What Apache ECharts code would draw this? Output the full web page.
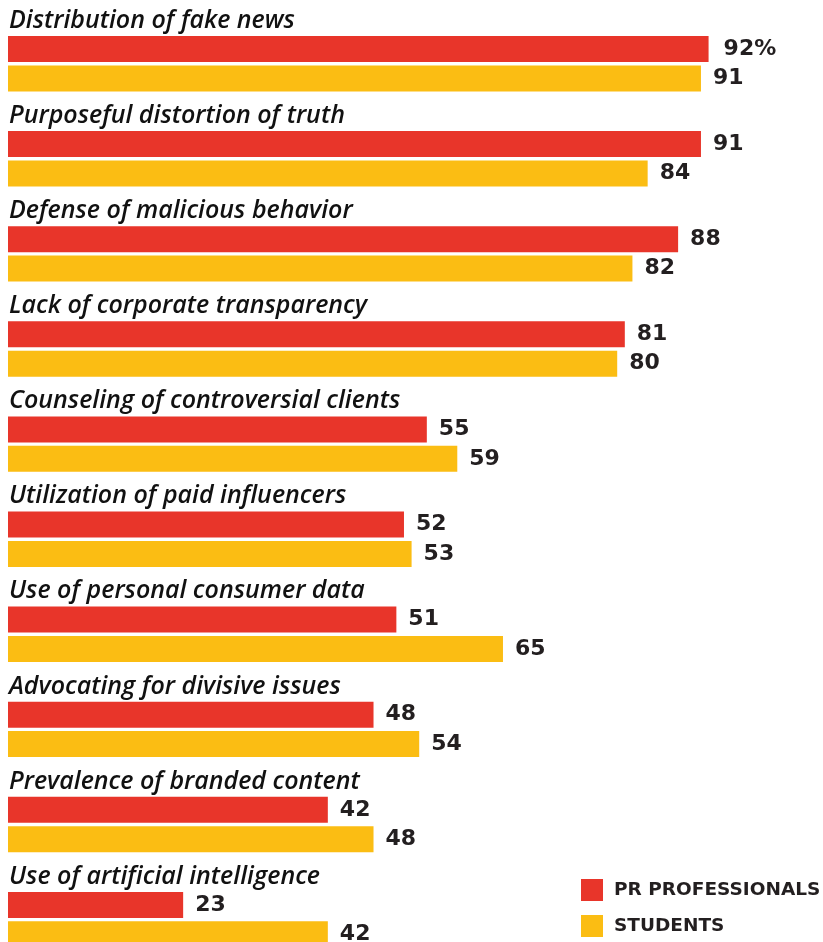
<!DOCTYPE html>
<html>
<head>
<meta charset="utf-8">
<script src="https://cdn.jsdelivr.net/npm/echarts@6/dist/echarts.min.js"></script>
<style>
html,body{margin:0;padding:0;background:#fff;overflow:hidden;}
#chart{width:823px;height:980px;}
</style>
</head>
<body>
<div id="chart"></div>
<script>
const categories = [
  "Distribution of fake news",
  "Purposeful distortion of truth",
  "Defense of malicious behavior",
  "Lack of corporate transparency",
  "Counseling of controversial clients",
  "Utilization of paid influencers",
  "Use of personal consumer data",
  "Advocating for divisive issues",
  "Prevalence of branded content",
  "Use of artificial intelligence"
];
const prProfessionals = [92, 91, 88, 81, 55, 52, 51, 48, 42, 23];
const students = [91, 84, 82, 80, 59, 53, 65, 54, 48, 42];
const seriesNames = ["PR PROFESSIONALS", "STUDENTS"];

const RED = "#E8352A";
const YELLOW = "#FBBD13";
const INK = "#231F20";

const chart = echarts.init(document.getElementById('chart'), null, {renderer: 'canvas'});

const valueLabel = {
  show: true,
  position: 'right',
  distance: 12,
  color: INK,
  fontFamily: 'DejaVu Sans',
  fontWeight: 'bold',
  fontSize: 22
};

chart.setOption({
  animation: false,
  backgroundColor: '#ffffff',
  grid: {left: 8, top: 16.15, width: 761.5, height: 951, containLabel: false},
  xAxis: {
    type: 'value', min: 0, max: 100,
    show: false
  },
  yAxis: {
    type: 'category',
    data: categories,
    inverse: true,
    show: false
  },
  legend: {
    orient: 'vertical',
    left: 581, top: 879,
    padding: 0,
    itemWidth: 22, itemHeight: 22, itemGap: 14,
    icon: 'rect',
    data: seriesNames,
    textStyle: {
      color: INK,
      fontFamily: 'DejaVu Sans',
      fontWeight: 'bold',
      fontSize: 18.5,
      padding: [0, 0, 0, 6]
    }
  },
  series: [
    {
      name: seriesNames[0],
      type: 'bar',
      barWidth: 26,
      barGap: '13%',
      itemStyle: {color: RED},
      label: Object.assign({}, valueLabel, {
        formatter: p => p.dataIndex === 0 ? p.value + '%' : String(p.value)
      }),
      data: prProfessionals.map((v, i) => i === 0 ? {value: v, label: {distance: 15}} : v)
    },
    {
      name: seriesNames[1],
      type: 'bar',
      barWidth: 26,
      itemStyle: {color: YELLOW},
      label: valueLabel,
      data: students
    },
    {
      name: 'cat',
      type: 'scatter',
      symbolSize: 0,
      silent: true,
      z: 5,
      itemStyle: {opacity: 1},
      label: {
        show: true,
        position: 'right',
        distance: 1,
        offset: [0, -43],
        opacity: 1,
        formatter: p => categories[p.dataIndex],
        color: '#111111',
        fontFamily: 'Open Sans',
        fontStyle: 'italic',
        fontWeight: 600,
        fontSize: 25
      },
      data: categories.map(() => 0)
    }
  ]
});
</script>
</body>
</html>
